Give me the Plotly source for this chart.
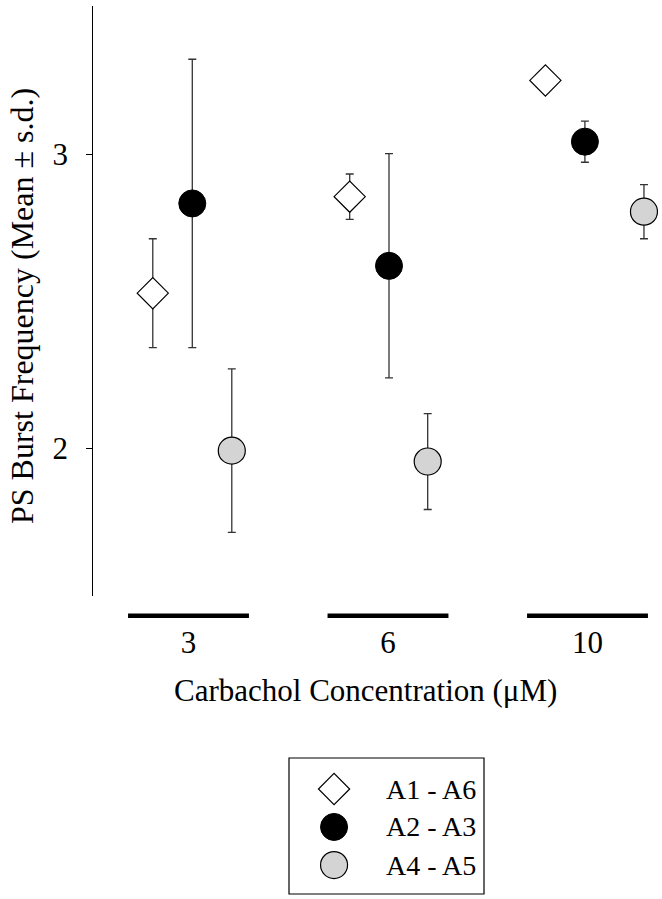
import plotly.graph_objects as go

# ---------------- data ----------------
conc_labels = ["3", "6", "10"]          # Carbachol concentration (µM)
group_pos = [1, 2, 3]
series_names = ["A1 - A6", "A2 - A3", "A4 - A5"]

a16_x = [0.821, 1.808, 2.789]
a16_mean = [2.527, 2.855, 3.250]
a16_sd = [0.185, 0.077, 0.03]

a23_x = [1.019, 2.005, 2.987]
a23_mean = [2.832, 2.620, 3.042]
a23_sd = [0.490, 0.381, 0.070]

a45_x = [1.217, 2.199, 3.283]
a45_mean = [1.992, 1.955, 2.804]
a45_sd = [0.278, 0.163, 0.092]

y_ticks = [2, 3]
x_title = "Carbachol Concentration (μM)"
y_title = "PS Burst Frequency (Mean ± s.d.)"

# ---------------- styling ----------------
W, H = 662, 899
FONT = "Liberation Serif"
GRAY = "#d4d4d4"

styles = [
    dict(symbol="diamond", size=24, color="white", line=dict(color="black", width=1.2)),
    dict(symbol="circle", size=27, color="black", line=dict(color="black", width=1)),
    dict(symbol="circle", size=27, color=GRAY, line=dict(color="black", width=1.2)),
]

fig = go.Figure()

series = [(a16_x, a16_mean, a16_sd), (a23_x, a23_mean, a23_sd), (a45_x, a45_mean, a45_sd)]
for (xs, ms, sds), name, st in zip(series, series_names, styles):
    fig.add_trace(go.Scatter(
        x=xs, y=ms, mode="markers", name=name, showlegend=False,
        marker=st,
        error_y=dict(type="data", array=sds, visible=True, color="#333333",
                     thickness=1.3, width=4),
        xaxis="x", yaxis="y",
    ))

# manual legend (markers drawn in a small helper subplot)
leg_rows = [0.772, 0.493, 0.213]
for name, st, yy in zip(series_names, styles, leg_rows):
    fig.add_trace(go.Scatter(
        x=[0.231], y=[yy], mode="markers", marker=st, showlegend=False,
        hoverinfo="skip", xaxis="x2", yaxis="y2",
    ))
    fig.add_annotation(x=0.487, y=yy, xref="x2", yref="y2", text=name,
                       showarrow=False, xanchor="left", yanchor="middle",
                       font=dict(family=FONT, size=28, color="black"))

# axis titles as annotations (precise placement)
fig.add_annotation(x=365 / W, y=(H - 690) / H, xref="paper", yref="paper",
                   text=x_title, showarrow=False, xanchor="center", yanchor="middle",
                   font=dict(family=FONT, size=31, color="black"))
fig.add_annotation(x=22 / W, y=(H - 306) / H, xref="paper", yref="paper",
                   text=y_title, showarrow=False, textangle=-90,
                   xanchor="center", yanchor="middle",
                   font=dict(family=FONT, size=32, color="black"))

# plot-area pixel geometry
left_px, right_px, top_px, bot_px = 93.3, 658.0, 6.0, 596.0
bar_y_px = 615.7

shapes = []
for g in group_pos:
    shapes.append(dict(type="line", xref="x", yref="paper",
                       x0=g - 0.303, x1=g + 0.303,
                       y0=(H - bar_y_px) / H, y1=(H - bar_y_px) / H,
                       line=dict(color="black", width=4.5)))
shapes.append(dict(type="rect", xref="x2 domain", yref="y2 domain",
                   x0=0, x1=1, y0=0, y1=1, line=dict(color="black", width=1.2)))

fig.update_layout(
    width=W, height=H,
    margin=dict(l=0, r=0, t=0, b=0),
    paper_bgcolor="white", plot_bgcolor="white",
    font=dict(family=FONT, size=28, color="black"),
    shapes=shapes,
    xaxis=dict(
        domain=[left_px / W, right_px / W],
        range=[0.5228, 0.5228 + (right_px - left_px) / 199.5],
        tickvals=group_pos, ticktext=conc_labels,
        showline=False, ticks="", showgrid=False, zeroline=False,
        ticklabelstandoff=25,
        tickfont=dict(family=FONT, size=31),
        automargin=False,
    ),
    yaxis=dict(
        domain=[(H - bot_px) / H, (H - top_px) / H],
        range=[1.498, 3.503],
        tickvals=y_ticks, ticktext=[str(t) for t in y_ticks],
        showline=True, linecolor="black", linewidth=1.3,
        ticks="outside", ticklen=6, tickwidth=1.3, tickcolor="black",
        showgrid=False, zeroline=False,
        ticklabelstandoff=12,
        tickfont=dict(family=FONT, size=31),
        automargin=False,
    ),
    xaxis2=dict(domain=[289 / W, 484 / W], range=[0, 1], visible=False, fixedrange=True),
    yaxis2=dict(domain=[5 / H, 141 / H], range=[0, 1], visible=False, fixedrange=True),
)

fig.write_html("out.html", config={"displayModeBar": False},
               post_script="document.body.style.margin='0px';document.body.style.padding='0px';")
